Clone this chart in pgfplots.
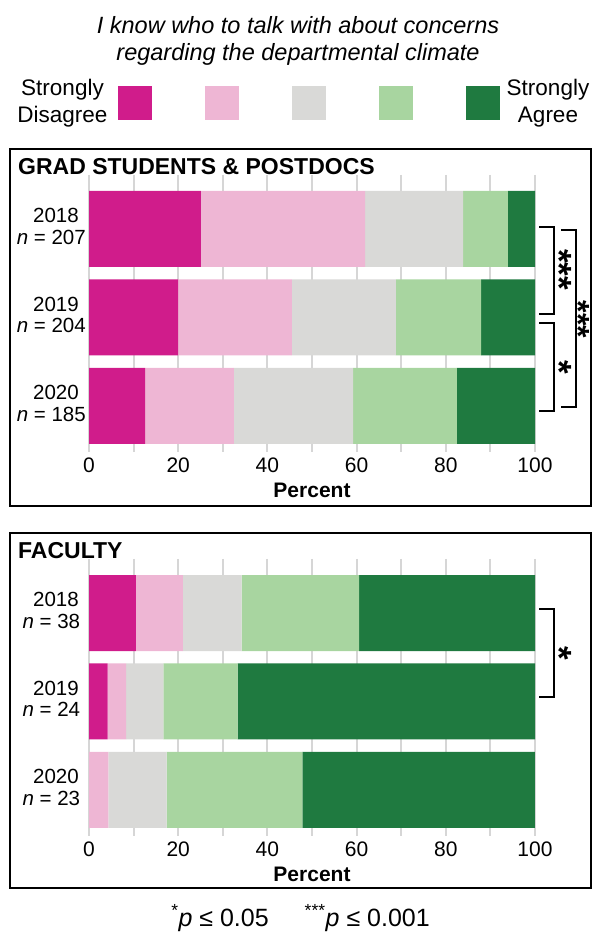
\documentclass[border=0pt]{standalone}
\usepackage{pgfplots}
\pgfplotsset{compat=1.18}
\usepackage{fontspec}
\setmainfont{Liberation Sans}
\definecolor{c1}{HTML}{D01C8B}
\definecolor{c2}{HTML}{EEB6D4}
\definecolor{c3}{HTML}{D9D9D7}
\definecolor{c4}{HTML}{A8D5A0}
\definecolor{c5}{HTML}{1F7A40}
\definecolor{gridc}{HTML}{D6D6D6}

\tikzset{sigstar/.style={rotate=-90, inner sep=0pt, font=\fontsize{35}{35}\selectfont\bfseries}}
\pgfplotsset{
 panel/.style={
  xbar stacked, bar width=76pt,
  scale only axis, width=446pt, height=261pt,
  xmin=0, xmax=100, ymin=-0.43, ymax=2.52,
  xtick={0,20,...,100}, minor xtick={10,30,...,90},
  xmajorgrids, xminorgrids,
  major grid style={draw=gridc, line width=2pt},
  minor grid style={draw=gridc, line width=2pt},
  tick align=outside,
  major tick length=8pt, minor tick length=8pt,
  x tick style={draw=gridc, line width=2pt},
  ytick={0,1,2}, y tick style={draw=none},
  axis line style={draw=none},
  xticklabel style={font=\fontsize{21}{22}\selectfont},
  yticklabel style={font=\fontsize{20.5}{21.5}\selectfont},
  /pgf/number format/assume math mode=true,
  xticklabel style={anchor=base, yshift=-20.5pt, inner sep=0pt},
  yticklabel style={align=center, anchor=center, inner sep=0pt, xshift=-25pt, yshift=2.5pt},
  xlabel={\textbf{Percent}},
  xlabel style={at={(axis description cs:0.5,0)}, anchor=base, yshift=-53.5pt, inner sep=0pt, font=\fontsize{21}{22}\selectfont},
  clip=false,
  every axis plot/.append style={draw=none},
 },
}

\begin{document}
\begin{tikzpicture}[x=1pt,y=1pt]
\useasboundingbox (0,0) rectangle (593,938);

% title
\node[anchor=base, inner sep=0pt, font=\fontsize{23.5}{27}\selectfont\itshape] at (298,904) {I know who to talk with about concerns};
\node[anchor=base, inner sep=0pt, font=\fontsize{23.5}{27}\selectfont\itshape] at (298,877) {regarding the departmental climate};

% legend end labels
\node[anchor=base, inner sep=0pt, font=\fontsize{22.5}{27}\selectfont] at (62.5,842) {Strongly};
\node[anchor=base, inner sep=0pt, font=\fontsize{22.5}{27}\selectfont] at (62.5,815) {Disagree};
\node[anchor=base, inner sep=0pt, font=\fontsize{22.5}{27}\selectfont] at (548,842) {Strongly};
\node[anchor=base, inner sep=0pt, font=\fontsize{22.5}{27}\selectfont] at (548,815) {Agree};

% panel boxes
\draw[line width=2.5pt] (10,432) rectangle (591,789);
\draw[line width=2.5pt] (10,50) rectangle (591,405);
\node[anchor=base west, inner sep=0pt, font=\fontsize{23}{25}\selectfont\bfseries] at (18,763) {GRAD STUDENTS \& POSTDOCS};
\node[anchor=base west, inner sep=0pt, font=\fontsize{23}{25}\selectfont\bfseries] at (18,379) {FACULTY};

% ---------- Grad students & postdocs ----------
\begin{axis}[panel, at={(89pt,494pt)}, anchor=south west,
  yticklabels={{2020\\\textit{n} = 185\hspace*{9.4pt}},{2019\\\textit{n} = 204\hspace*{9.4pt}},{2018\\\textit{n} = 207\hspace*{9.4pt}}},
  legend columns=5,
  legend image code/.code={\fill[#1] (0pt,-17pt) rectangle (34pt,17pt);},
  legend style={draw=none, fill=none, inner sep=0pt, outer sep=0pt,
    at={(0.065,1.3065)}, anchor=west,
    nodes={inner sep=0pt, outer sep=0pt},
    /tikz/every even column/.append style={column sep=52pt}},
]
\addplot[fill=c1] coordinates {(12.6,0) (20.0,1) (25.1,2)};
\addplot[fill=c2] coordinates {(19.9,0) (25.5,1) (36.8,2)};
\addplot[fill=c3] coordinates {(26.7,0) (23.3,1) (22.0,2)};
\addplot[fill=c4] coordinates {(23.3,0) (19.1,1) (10.0,2)};
\addplot[fill=c5] coordinates {(17.5,0) (12.1,1) (6.1,2)};
\addlegendentry{\mbox{}}
\addlegendentry{\mbox{}}
\addlegendentry{\mbox{}}
\addlegendentry{\mbox{}}
\addlegendentry{\mbox{}}
% significance brackets
\draw[line width=2pt] (axis cs:100.9,2.02) -- (axis cs:104.3,2.02) -- (axis cs:104.3,1.04) -- (axis cs:100.9,1.04);
\draw[line width=2pt] (axis cs:100.9,0.94) -- (axis cs:104.3,0.94) -- (axis cs:104.3,-0.06) -- (axis cs:100.9,-0.06);
\draw[line width=2pt] (axis cs:105.8,1.99) -- (axis cs:109.2,1.99) -- (axis cs:109.2,-0.01) -- (axis cs:105.8,-0.01);
\node[sigstar] at (axis cs:105.5,1.54) {***};
\node[sigstar] at (axis cs:105.5,0.44) {*};
\node[sigstar, font=\fontsize{32}{32}\selectfont\bfseries] at (axis cs:109.8,0.98) {***};
\end{axis}

% ---------- Faculty ----------
\begin{axis}[panel, at={(89pt,110pt)}, anchor=south west,
  yticklabels={{2020\\\textit{n} = 23\hspace*{9.4pt}},{2019\\\textit{n} = 24\hspace*{9.4pt}},{2018\\\textit{n} = 38\hspace*{9.4pt}}},
]
\addplot[fill=c1] coordinates {(0,0) (4.17,1) (10.53,2)};
\addplot[fill=c2] coordinates {(4.35,0) (4.17,1) (10.53,2)};
\addplot[fill=c3] coordinates {(13.04,0) (8.33,1) (13.16,2)};
\addplot[fill=c4] coordinates {(30.43,0) (16.67,1) (26.32,2)};
\addplot[fill=c5] coordinates {(52.17,0) (66.67,1) (39.47,2)};
\draw[line width=2pt] (axis cs:100.9,2.045) -- (axis cs:104.3,2.045) -- (axis cs:104.3,1.05) -- (axis cs:100.9,1.05);
\node[sigstar] at (axis cs:105.5,1.55) {*};
\end{axis}

% footer
\node[anchor=base, inner sep=0pt, font=\fontsize{25}{28}\selectfont] at (300.5,12)
  {\textsuperscript{*}\textit{p} ≤ 0.05\hspace{36pt}\textsuperscript{***}\textit{p} ≤ 0.001};
\end{tikzpicture}
\end{document}
